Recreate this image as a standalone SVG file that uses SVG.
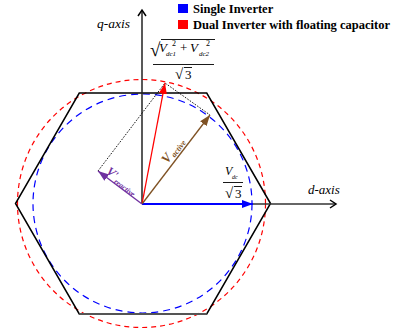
<svg xmlns="http://www.w3.org/2000/svg" width="397" height="333" viewBox="0 0 397 333">
<style>
.t{font-family:"Liberation Serif","Times New Roman",serif;}
.i{font-style:italic;}
.b{font-weight:bold;}
.dot{fill:none;stroke:#000;stroke-width:0.9;stroke-dasharray:1.6,1.4;}
</style>
<defs>
<marker id="axA" markerWidth="10" markerHeight="10" refX="8" refY="5" orient="auto" markerUnits="userSpaceOnUse"><path d="M2,1 L8,5 L2,9" fill="none" stroke="#000" stroke-width="1.5"/></marker>
<marker id="blueA" markerWidth="12" markerHeight="10" refX="11" refY="5" orient="auto" markerUnits="userSpaceOnUse"><path d="M0,1 L11,5 L0,9 Z" fill="#0000FF"/></marker>
<marker id="redA" markerWidth="12" markerHeight="10" refX="11" refY="5" orient="auto" markerUnits="userSpaceOnUse"><path d="M0,1 L11,5 L0,9 Z" fill="#FF0000"/></marker>
<marker id="brA" markerWidth="12" markerHeight="10" refX="11" refY="5" orient="auto" markerUnits="userSpaceOnUse"><path d="M0,1 L11,5 L0,9 Z" fill="#7F5224"/></marker>
<marker id="puA" markerWidth="12" markerHeight="10" refX="11" refY="5" orient="auto" markerUnits="userSpaceOnUse"><path d="M0,1 L11,5 L0,9 Z" fill="#7030A0"/></marker>
</defs>
<rect width="397" height="333" fill="#fff"/>

<g id="legend">
<rect x="178" y="4" width="10" height="9" fill="#0000FF"/>
<text class="t b" x="193" y="13" font-size="12.5">Single Inverter</text>
<rect x="178" y="20" width="10" height="9" fill="#FF0000"/>
<text class="t b" x="193" y="28.5" font-size="12.5">Dual Inverter with floating capacitor</text>
</g>

<g id="circles">
<circle cx="141.5" cy="203.5" r="124" fill="none" stroke="#FF0000" stroke-width="1.2" stroke-dasharray="5,4"/>
<circle cx="142.5" cy="203.5" r="109.5" fill="none" stroke="#0000FF" stroke-width="1.2" stroke-dasharray="7,5"/>
</g>

<g id="hexagon">
<polygon points="270.5,203.5 206.75,93.1 79.25,93.1 15.5,203.5 79.25,313.9 206.75,313.9" fill="none" stroke="#000" stroke-width="1.5" stroke-linejoin="miter"/>
<line x1="79.25" y1="313.9" x2="206.75" y2="313.9" stroke="#555" stroke-width="2"/>
</g>

<g id="connectors">
<line x1="142" y1="204" x2="142" y2="10" stroke="#222" stroke-width="1.5" marker-end="url(#axA)"/>
<line x1="142" y1="204" x2="336" y2="204" stroke="#333" stroke-width="1.5" marker-end="url(#axA)"/>
<polyline class="dot" points="98,171 165,83 210,115"/>
<line x1="142" y1="204" x2="253" y2="204" stroke="#0000FF" stroke-width="2" marker-end="url(#blueA)"/>
<line x1="142" y1="204" x2="165" y2="83" stroke="#FF0000" stroke-width="1.3" marker-end="url(#redA)"/>
<line x1="142" y1="204" x2="210" y2="115" stroke="#7F5224" stroke-width="1.3" marker-end="url(#brA)"/>
<line x1="142" y1="204" x2="98" y2="171" stroke="#7030A0" stroke-width="1.3" marker-end="url(#puA)"/>
</g>

<g id="labels">
<text class="t i" x="97" y="27.5" font-size="13.5">q-axis</text>
<text class="t i" x="308" y="194" font-size="13">d-axis</text>

<g id="formula1">
<text class="t" x="150" y="56" font-size="19">√</text>
<line x1="161" y1="39.5" x2="215" y2="39.5" stroke="#000" stroke-width="0.9"/>
<text class="t i" x="159" y="52" font-size="13">V</text>
<text class="t i" x="166" y="56" font-size="7">dc1</text>
<text class="t" x="172" y="46" font-size="8">2</text>
<text class="t" x="180" y="52" font-size="13">+</text>
<text class="t i" x="190" y="52" font-size="13">V</text>
<text class="t i" x="199" y="56" font-size="7">dc2</text>
<text class="t" x="206" y="46" font-size="8">2</text>
<line x1="153" y1="64.5" x2="214" y2="64.5" stroke="#000" stroke-width="0.9"/>
<text class="t" x="175" y="79" font-size="15">√</text>
<line x1="184" y1="67.5" x2="192" y2="67.5" stroke="#000" stroke-width="0.9"/>
<text class="t" x="185" y="79" font-size="13">3</text>
</g>

<g id="formula2">
<text class="t i" x="225" y="175" font-size="12">V</text>
<text class="t i" x="232" y="179" font-size="6">dc</text>
<line x1="223" y1="182.5" x2="243" y2="182.5" stroke="#000" stroke-width="0.9"/>
<text class="t" x="225" y="198" font-size="15">√</text>
<line x1="234" y1="186.5" x2="242" y2="186.5" stroke="#000" stroke-width="0.9"/>
<text class="t" x="235" y="198" font-size="13">3</text>
</g>

<g transform="translate(142,204) rotate(-52.6)">
<text class="t i b" x="47" y="-4" font-size="13" fill="#7F5224">V<tspan font-size="8" dy="2" dx="1">active</tspan></text>
</g>
<g transform="translate(98,171) rotate(36.9)">
<text class="t i b" x="7" y="-3" font-size="12" fill="#7030A0">V'<tspan font-size="7.5" dy="3" dx="1">reactive</tspan></text>
</g>
</g>
</svg>
